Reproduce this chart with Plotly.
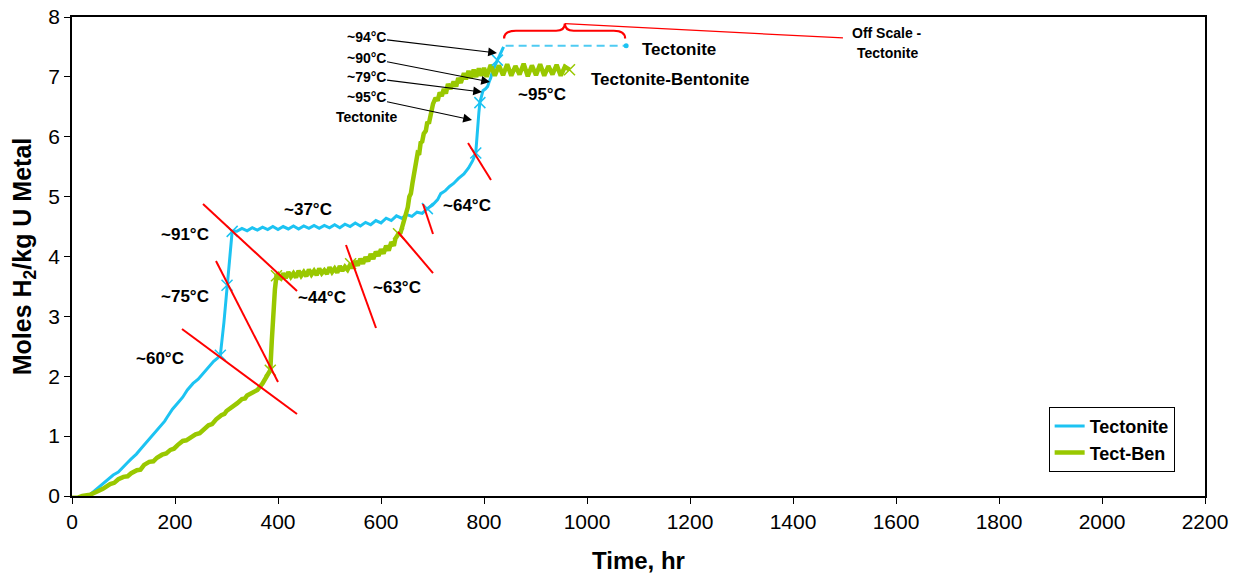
import plotly.graph_objects as go

# ---- Hydrogen generation data (hours, moles H2 per kg U metal) ----
tect_hr = [0, 15, 25, 35, 45, 55, 60, 70, 80, 90, 100, 107, 115, 125, 135, 145, 152, 160,
           170, 180, 185, 195, 205, 215, 224, 235, 245, 255, 265, 275, 282, 288, 295, 301,
           306, 311, 320, 330, 340, 350, 360, 370, 380, 390, 400, 410, 420, 430, 440, 450,
           460, 470, 480, 490, 500, 510, 520, 530, 540, 550, 560, 570, 580, 590, 600, 610,
           620, 630, 640, 650, 660, 670, 680, 690, 700, 710, 716, 725, 733, 741, 750, 761,
           770, 778, 784, 786, 788, 790, 792, 795, 798, 803, 807, 810, 813, 816, 819, 823,
           826, 830, 834, 838]
tect_val = [-0.10, -0.10, -0.05, 0.02, 0.10, 0.17, 0.20, 0.28, 0.35, 0.40, 0.48, 0.55, 0.62,
            0.70, 0.80, 0.90, 0.98, 1.05, 1.15, 1.25, 1.32, 1.45, 1.55, 1.65, 1.77, 1.88,
            1.95, 2.05, 2.15, 2.25, 2.30, 2.35, 2.90, 3.52, 3.95, 4.42, 4.42, 4.47, 4.43,
            4.48, 4.44, 4.49, 4.45, 4.50, 4.45, 4.50, 4.46, 4.51, 4.46, 4.51, 4.47, 4.52,
            4.47, 4.52, 4.48, 4.53, 4.48, 4.54, 4.50, 4.56, 4.51, 4.57, 4.53, 4.60, 4.56,
            4.64, 4.60, 4.68, 4.64, 4.70, 4.67, 4.74, 4.72, 4.80, 4.86, 4.95, 5.05, 5.10,
            5.17, 5.22, 5.30, 5.38, 5.48, 5.60, 5.73, 6.00, 6.22, 6.40, 6.57, 6.70, 6.77,
            6.80, 6.84, 6.92, 6.98, 7.08, 7.15, 7.22, 7.28, 7.35, 7.42, 7.50]

# Temperature change points on the Tectonite curve
tect_mark_hr = [288, 301, 311, 690, 784, 792, 826]
tect_mark_val = [2.35, 3.52, 4.42, 4.80, 5.73, 6.57, 7.28]

# Off-scale segment of the Tectonite curve
offscale_hr = [842, 1076]
offscale_val = [7.52, 7.52]

# Tect-Ben curve, one row per stretch of the test
tb_hr = [
    0, 10, 20, 35, 50, 60, 74, 82, 90, 100,
    108, 115, 126, 133, 140, 150, 158, 165, 175, 183,
    191, 198, 205, 215, 222, 230, 240, 248, 255, 265,
    272, 280, 290, 296, 300, 310, 316, 321, 330, 336,
    340, 350, 355, 360, 370, 378, 385, 388, 391, 394,
    397, 400, 405, 410, 415, 420, 425, 430, 435, 440,
    445, 450, 455, 460, 465, 470, 475, 480, 485, 490,
    495, 500, 505, 510, 515, 520, 525, 530, 535, 541,
    545, 550, 555, 560, 565, 570, 575, 580, 585, 590,
    595, 600, 605, 610, 615, 620, 625, 628, 634, 638,
    643, 648, 652, 655, 658, 661, 666, 671, 674, 677,
    680, 683, 687, 690, 693, 696, 701, 706, 710, 714,
    718, 722, 726, 730, 735, 741, 746, 750, 755, 761,
    765, 770, 775, 780, 785, 790, 795, 800, 805, 813,
    821, 829, 837, 845, 853, 861, 869, 877, 885, 893,
    901, 909, 917, 925, 933, 941, 949, 957, 966,
]
tb_val = [
    -0.03, -0.03, 0.00, 0.02, 0.08, 0.12, 0.20, 0.22, 0.28, 0.32,
    0.33, 0.38, 0.43, 0.44, 0.52, 0.57, 0.58, 0.64, 0.69, 0.71,
    0.77, 0.79, 0.85, 0.92, 0.93, 0.98, 1.03, 1.05, 1.10, 1.18,
    1.20, 1.28, 1.35, 1.37, 1.42, 1.48, 1.50, 1.55, 1.62, 1.63,
    1.68, 1.72, 1.74, 1.77, 1.88, 1.98, 2.10, 2.60, 3.10, 3.45,
    3.68, 3.70, 3.62, 3.72, 3.64, 3.74, 3.66, 3.72, 3.65, 3.76,
    3.68, 3.74, 3.67, 3.78, 3.70, 3.76, 3.69, 3.80, 3.72, 3.77,
    3.71, 3.82, 3.74, 3.80, 3.73, 3.84, 3.76, 3.83, 3.78, 3.88,
    3.80, 3.92, 3.85, 3.96, 3.88, 3.99, 3.92, 4.04, 3.96, 4.08,
    4.01, 4.12, 4.05, 4.18, 4.10, 4.24, 4.18, 4.30, 4.38, 4.40,
    4.55, 4.72, 4.82, 5.00, 5.05, 5.22, 5.45, 5.72, 5.70, 5.90,
    5.92, 6.05, 6.10, 6.25, 6.22, 6.38, 6.55, 6.65, 6.60, 6.74,
    6.68, 6.80, 6.72, 6.88, 6.80, 6.92, 6.84, 6.98, 6.90, 7.06,
    6.96, 7.10, 6.98, 7.12, 7.00, 7.14, 7.02, 7.15, 7.00, 7.20,
    7.02, 7.19, 7.03, 7.21, 7.02, 7.18, 7.04, 7.22, 7.01, 7.19,
    7.03, 7.21, 7.02, 7.18, 7.04, 7.20, 7.02, 7.17, 7.12,
]

# Temperature change points on the Tect-Ben curve
tb_mark_hr = [385, 397, 541, 634, 966]
tb_mark_val = [2.10, 3.68, 3.88, 4.38, 7.12]

x_ticks = list(range(0, 2201, 200))
y_ticks = list(range(0, 9))

assert len(tect_hr) == len(tect_val) and len(tb_hr) == len(tb_val)

BLUE = "#1CC3F2"
GREEN = "#99C800"
RED = "#FF0000"
FONT = "Arial, Liberation Sans, sans-serif"

fig = go.Figure()

fig.add_trace(go.Scatter(x=tect_hr, y=tect_val, mode="lines", name="<b>Tectonite</b>",
                         line=dict(color=BLUE, width=3)))
fig.add_trace(go.Scatter(x=tb_hr, y=tb_val, mode="lines", name="<b>Tect-Ben</b>",
                         line=dict(color=GREEN, width=4.5)))
fig.add_trace(go.Scatter(x=offscale_hr, y=offscale_val, mode="lines", showlegend=False,
                         line=dict(color="#4FCBF2", width=2, dash="8px,5px")))
fig.add_trace(go.Scatter(x=offscale_hr[-1:], y=offscale_val[-1:], mode="markers",
                         showlegend=False, marker=dict(color=BLUE, size=5, symbol="circle")))
fig.add_trace(go.Scatter(x=tect_mark_hr, y=tect_mark_val, mode="markers", showlegend=False,
                         marker=dict(symbol="x-thin", size=11,
                                     line=dict(color=BLUE, width=1.5))))
fig.add_trace(go.Scatter(x=tb_mark_hr, y=tb_mark_val, mode="markers", showlegend=False,
                         marker=dict(symbol="x-thin", size=11,
                                     line=dict(color=GREEN, width=1.5))))

# Red guide lines separating temperature steps
guide_lines = [
    (213.6, 2.789, 436.9, 1.370),
    (279.6, 3.925, 400.0, 1.904),
    (254.4, 4.877, 436.9, 3.424),
    (532.0, 4.192, 590.3, 2.806),
    (633.0, 4.409, 701.0, 3.724),
    (681.6, 4.877, 701.0, 4.376),
    (769.0, 5.896, 813.6, 5.278),
]
shapes = []
for x0, y0, x1, y1 in guide_lines:
    shapes.append(dict(type="line", xref="x", yref="y", x0=x0, y0=y0, x1=x1, y1=y1,
                       line=dict(color=RED, width=2)))

# Brace over the off-scale segment and its leader line
shapes.append(dict(type="path", xref="x", yref="y",
                   path="M 839,7.64 Q 839,7.77 862,7.77 L 940,7.77 Q 957,7.77 957,7.89 "
                        "Q 957,7.77 974,7.77 L 1052,7.77 Q 1074,7.77 1074,7.64",
                   line=dict(color=RED, width=2.2)))
shapes.append(dict(type="line", xref="x", yref="y", x0=957, y0=7.89, x1=1497, y1=7.65,
                   line=dict(color=RED, width=1.3)))

annotations = []
big_labels = [
    ("~60°C", 171, 2.30), ("~75°C", 219, 3.34), ("~91°C", 219, 4.36),
    ("~37°C", 458, 4.78), ("~44°C", 485, 3.32), ("~63°C", 631, 3.49),
    ("~64°C", 767, 4.86), ("~95°C", 913, 6.70),
    ("Tectonite", 1179, 7.45), ("Tectonite-Bentonite", 1161, 6.95),
]
for txt, x, y in big_labels:
    annotations.append(dict(text=f"<b>{txt}</b>", x=x, y=y, xref="x", yref="y",
                            showarrow=False,
                            font=dict(family=FONT, size=17, color="black"),
                            xanchor="center", yanchor="middle"))

small_labels = [
    ("Off Scale -", 1583, 7.73), ("Tectonite", 1583, 7.40), ("Tectonite", 571, 6.33),
]
for txt, x, y in small_labels:
    annotations.append(dict(text=f"<b>{txt}</b>", x=x, y=y, xref="x", yref="y",
                            showarrow=False,
                            font=dict(family=FONT, size=14, color="black"),
                            xanchor="center", yanchor="middle"))

# Labelled arrows pointing at the final Tectonite steps
arrow_labels = [
    ("~94°C", 7.66, 825.2, 7.399),
    ("~90°C", 7.32, 811.7, 6.914),
    ("~79°C", 6.99, 796.1, 6.747),
    ("~95°C", 6.66, 776.7, 6.280),
]
for txt, y_tail, x_head, y_head in arrow_labels:
    annotations.append(dict(text=f"<b>{txt}</b>", x=x_head, y=y_head, ax=571, ay=y_tail,
                            xref="x", yref="y", axref="x", ayref="y", showarrow=True,
                            arrowhead=2, arrowsize=1.6, arrowwidth=1.1, arrowcolor="black",
                            standoff=0, startstandoff=0,
                            font=dict(family=FONT, size=14, color="black")))

fig.update_layout(
    width=1243, height=578,
    margin=dict(l=72, r=38, t=17, b=82),
    paper_bgcolor="white", plot_bgcolor="white",
    font=dict(family=FONT, color="black"),
    shapes=shapes, annotations=annotations,
    legend=dict(x=0.862, y=0.186, xanchor="left", yanchor="top",
                bordercolor="black", borderwidth=1, bgcolor="white",
                font=dict(family=FONT, size=18, color="black"),
                itemwidth=30, tracegroupgap=0),
    showlegend=True,
)
fig.update_xaxes(range=[0, 2200], tickvals=x_ticks, ticktext=[str(v) for v in x_ticks],
                 showgrid=False, zeroline=False, showline=True, mirror=True,
                 linecolor="black", linewidth=1.5, ticks="outside", ticklen=6,
                 tickcolor="black", tickfont=dict(size=21, family=FONT), automargin=False,
                 title=dict(text="<b>Time, hr</b>", font=dict(size=24, family=FONT),
                            standoff=20))
fig.update_yaxes(range=[0, 8], tickvals=y_ticks, ticktext=[str(v) for v in y_ticks],
                 showgrid=False, zeroline=False, showline=True, mirror=True,
                 linecolor="black", linewidth=1.5, ticks="outside", ticklen=6,
                 tickcolor="black", tickfont=dict(size=21, family=FONT), automargin=False,
                 title=dict(text="<b>Moles H<sub>2</sub>/kg U Metal</b>",
                            font=dict(size=25, family=FONT), standoff=10))

fig.write_html("out.html")
